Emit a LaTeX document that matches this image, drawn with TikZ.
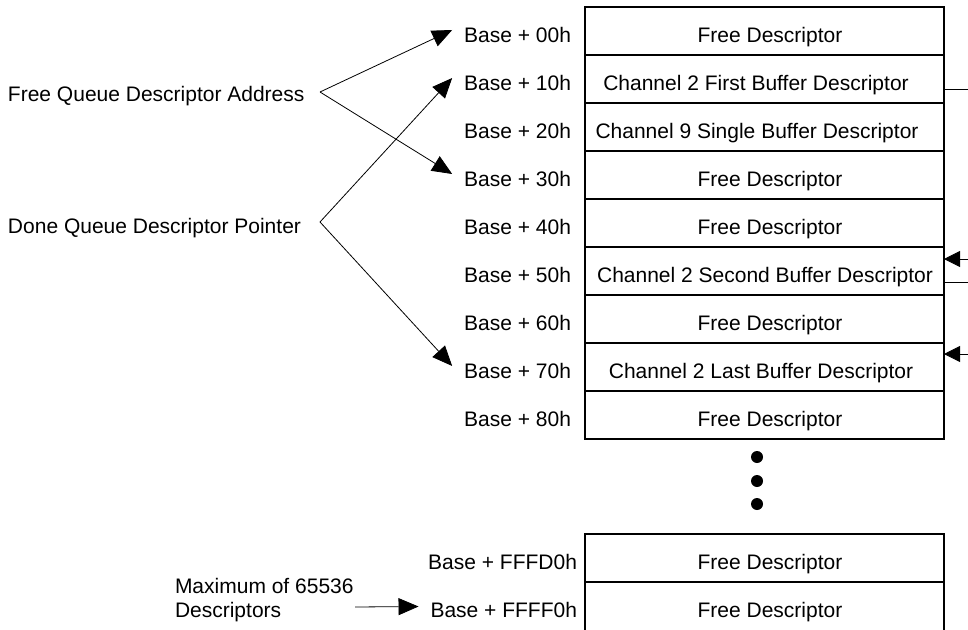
\documentclass[tikz,border=0pt]{standalone}
\usepackage{fontspec}
\setmainfont{Liberation Sans}
\usetikzlibrary{arrows.meta}
\begin{document}
\begin{tikzpicture}[x=1pt,y=-1pt,
  every node/.style={font=\fontsize{21}{24}\selectfont, inner sep=0pt, outer sep=0pt},
  rowbox/.style={draw, line width=1.4pt, minimum width=359pt, minimum height=48pt, anchor=north west},
  addr/.style={anchor=base east},
  desc/.style={anchor=base},
  conn/.style={line width=0.8pt},
  bigtip/.style={conn, -{Triangle[length=20pt,width=17pt]}},
  smalltip/.style={conn, -{Triangle[length=16pt,width=16pt]}},
  dotmark/.style={circle, fill, minimum size=12pt}
]
\useasboundingbox[fill=white] (0,0) rectangle (968,629);

% upper stack of rows
\node[rowbox] (r0) at (585,7) {};
\node[rowbox] (r1) at (585,55) {};
\node[rowbox] (r2) at (585,103) {};
\node[rowbox] (r3) at (585,151) {};
\node[rowbox] (r4) at (585,199) {};
\node[rowbox] (r5) at (585,247) {};
\node[rowbox] (r6) at (585,295) {};
\node[rowbox] (r7) at (585,343) {};
\node[rowbox] (r8) at (585,391) {};

% lower stack
\node[rowbox] (s0) at (585,534) {};
\node[rowbox, minimum height=54pt] (s1) at (585,582) {};

% descriptions
\node[desc] (t0) at (770,42.5) {Free Descriptor};
\node[desc] (t1) at (756,90.5) {Channel 2 First Buffer Descriptor};
\node[desc] (t2) at (757,138.5) {Channel 9 Single Buffer Descriptor};
\node[desc] (t3) at (770,186.5) {Free Descriptor};
\node[desc] (t4) at (770,234.5) {Free Descriptor};
\node[desc] (t5) at (765,282.5) {Channel 2 Second Buffer Descriptor};
\node[desc] (t6) at (770,330.5) {Free Descriptor};
\node[desc] (t7) at (761,378.5) {Channel 2 Last Buffer Descriptor};
\node[desc] (t8) at (770,426.5) {Free Descriptor};
\node[desc] (u0) at (770,569.5) {Free Descriptor};
\node[desc] (u1) at (770,617.5) {Free Descriptor};

% addresses
\node[addr] (a0) at (571,42.5) {Base + 00h};
\node[addr] (a1) at (571,90.5) {Base + 10h};
\node[addr] (a2) at (571,138.5) {Base + 20h};
\node[addr] (a3) at (571,186.5) {Base + 30h};
\node[addr] (a4) at (571,234.5) {Base + 40h};
\node[addr] (a5) at (571,282.5) {Base + 50h};
\node[addr] (a6) at (571,330.5) {Base + 60h};
\node[addr] (a7) at (571,378.5) {Base + 70h};
\node[addr] (a8) at (571,426.5) {Base + 80h};
\node[addr] (b0) at (577,569.5) {Base + FFFD0h};
\node[addr] (b1) at (577,617.5) {Base + FFFF0h};

% ellipsis dots
\node[dotmark] (d1) at (757,457) {};
\node[dotmark] (d2) at (757,481) {};
\node[dotmark] (d3) at (757,504) {};

% left labels
\node[anchor=base west] (fq) at (8,101) {Free Queue Descriptor Address};
\node[anchor=base west] (dq) at (8,233) {Done Queue Descriptor Pointer};
\node[anchor=base west] (m1) at (175,593) {Maximum of 65536};
\node[anchor=base west] (m2) at (175,617) {Descriptors};

\coordinate (fv) at (320,92);
\coordinate (dv) at (320,222);
\coordinate (mt) at (355,607);

\draw[bigtip] (fv) -- ([shift={(-12pt,5pt)}]a0.west);
\draw[bigtip] (fv) -- ([shift={(-12pt,5pt)}]a3.west);
\draw[bigtip] (dv) -- ([shift={(-12pt,5pt)}]a1.west);
\draw[bigtip] (dv) -- ([shift={(-12pt,5pt)}]a7.west);
\draw[bigtip] (mt) -- ([shift={(-12pt,3.5pt)}]b1.west);

% right-side links
\coordinate (q1) at (970,89);
\coordinate (q2) at (970,259);
\coordinate (q3) at (970,282);
\coordinate (q4) at (970,354);
\draw[conn] (q1 -| r1.east) -- (q1);
\draw[smalltip] (q2) -- (q2 -| r5.east);
\draw[conn] (q3 -| r5.east) -- (q3);
\draw[smalltip] (q4) -- (q4 -| r7.east);
\end{tikzpicture}
\end{document}
